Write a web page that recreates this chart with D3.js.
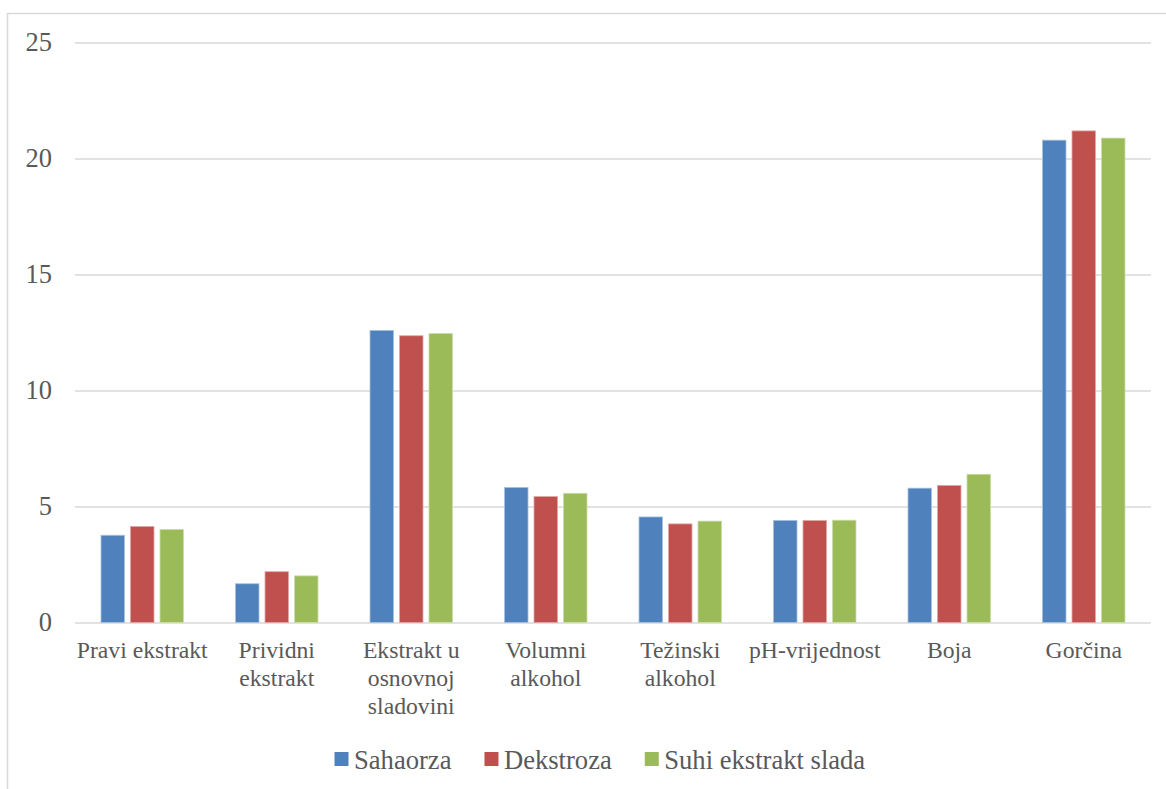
<!DOCTYPE html>
<html>
<head>
<meta charset="utf-8">
<script src="https://cdn.jsdelivr.net/npm/d3@7"></script>
<style>
  html, body { margin: 0; padding: 0; background: #fff; }
  svg { display: block; }
</style>
</head>
<body>
<svg id="chart" width="1166" height="789"></svg>
<script>
const categories = [
  ["Pravi ekstrakt"],
  ["Prividni", "ekstrakt"],
  ["Ekstrakt u", "osnovnoj", "sladovini"],
  ["Volumni", "alkohol"],
  ["Težinski", "alkohol"],
  ["pH-vrijednost"],
  ["Boja"],
  ["Gorčina"]
];
const seriesNames = ["Sahaorza", "Dekstroza", "Suhi ekstrakt slada"];
const sahaorza = [3.76, 1.67, 12.59, 5.82, 4.55, 4.40, 5.79, 20.79];
const dekstroza = [4.14, 2.19, 12.36, 5.43, 4.25, 4.40, 5.91, 21.19];
const suhiEkstrakt = [4.01, 2.01, 12.46, 5.57, 4.37, 4.41, 6.39, 20.88];
const yTicks = [0, 5, 10, 15, 20, 25];
const colors = ["#4F81BD", "#C0504D", "#9BBB59"];
const strokeColors = ["#A7C0DE", "#DFA8A6", "#CDDDAC"];

const FONT = "Liberation Serif";
const seriesValues = [sahaorza, dekstroza, suhiEkstrakt];
const catKeys = categories.map(c => c.join(" "));

const svg = d3.select("#chart").style("font-family", FONT);

// chart border
svg.append("path")
  .attr("d", "M7.5,789 L7.5,13.5 L1166,13.5")
  .attr("fill", "none").attr("stroke", "#d9d9d9").attr("stroke-width", 1.5);

const plotLeft = 75, plotRight = 1151, plotTop = 42.5, plotBottom = 622.5;

const x = d3.scaleBand().domain(catKeys).range([plotLeft, plotRight])
  .paddingInner(0.3866).paddingOuter(0.3866 / 2);
const xs = d3.scaleBand().domain(d3.range(3)).range([0, x.bandwidth()])
  .paddingInner(0.203).paddingOuter(0);
const y = d3.scaleLinear().domain([0, 25]).range([plotBottom, plotTop]);

// gridlines + y labels
const yAxis = d3.axisLeft(y).tickValues(yTicks).tickSize(-(plotRight - plotLeft)).tickPadding(23).tickFormat(d3.format("d"));
const gy = svg.append("g").attr("transform", `translate(${plotLeft},0)`).call(yAxis);
gy.attr("font-family", null).attr("font-size", null);
gy.select(".domain").remove();
gy.selectAll(".tick line").attr("stroke", "#d9d9d9").attr("stroke-width", 1.5);
gy.selectAll(".tick text")
  .style("font-family", FONT).style("font-size", "26.5px").style("fill", "#595959");

// bars
const groups = svg.append("g").selectAll("g")
  .data(catKeys).join("g")
  .attr("transform", d => `translate(${x(d)},0)`);

groups.selectAll("rect")
  .data((d, i) => seriesValues.map((s, k) => ({k, v: s[i]})))
  .join("rect")
  .attr("x", d => xs(d.k))
  .attr("width", xs.bandwidth())
  .attr("y", d => y(d.v))
  .attr("height", d => y(0) - y(d.v))
  .attr("fill", d => colors[d.k])
  .attr("stroke", d => strokeColors[d.k])
  .attr("stroke-width", 0.8);

// category labels
const xAxis = d3.axisBottom(x).tickSize(0).tickFormat("");
const gx = svg.append("g").attr("transform", `translate(0,${plotBottom})`).call(xAxis);
gx.attr("font-family", null).attr("font-size", null);
gx.select(".domain").remove();
gx.selectAll(".tick text").remove();
gx.selectAll(".tick").each(function(d, i) {
  const t = d3.select(this).append("text")
    .attr("text-anchor", "middle")
    .style("font-family", FONT).style("font-size", "23.7px").style("fill", "#595959");
  categories[i].forEach((line, j) => {
    t.append("tspan").attr("x", 0).attr("y", 35.5 + j * 28).text(line);
  });
});

// legend
const legend = svg.append("g");
let lx = 334.5;
seriesNames.forEach((name, k) => {
  legend.append("rect").attr("x", lx).attr("y", 752).attr("width", 14).attr("height", 14)
    .attr("fill", colors[k]);
  const t = legend.append("text").attr("x", lx + 19.5).attr("y", 769)
    .style("font-family", FONT).style("font-size", "26.6px").style("fill", "#595959").text(name);
  lx += 19.5 + t.node().getComputedTextLength() + 33;
});
</script>
</body>
</html>
